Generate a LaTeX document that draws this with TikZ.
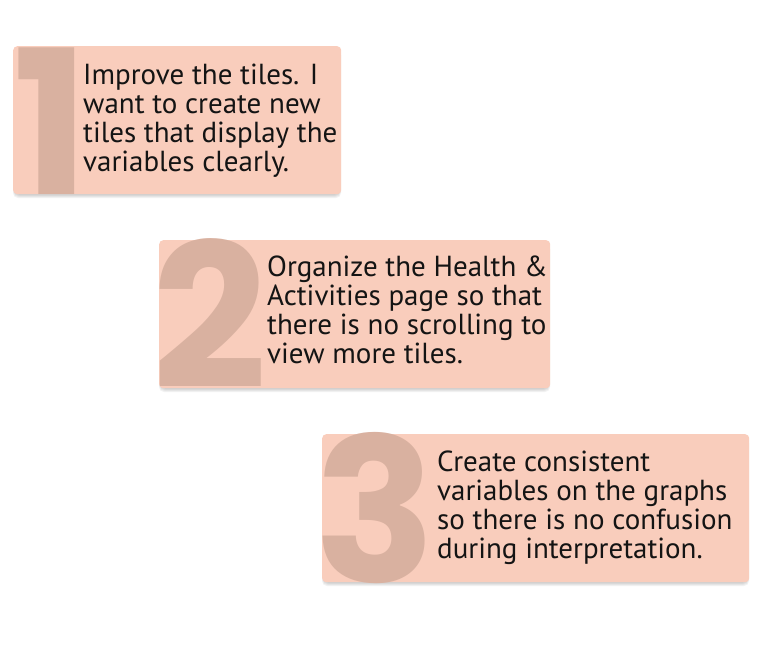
\documentclass[tikz,border=0pt]{standalone}
\usepackage{fontspec}
\setmainfont{PT Sans}
\newfontfamily\digitfont{Poppins}
\definecolor{tilefill}{RGB}{249,205,188}
\definecolor{digitcol}{RGB}{217,177,160}
\definecolor{textcol}{RGB}{20,20,20}
\tikzset{
  tile/.style={fill=tilefill, rounded corners=4pt, draw=none, inner sep=0pt, anchor=north west},
  digit/.style={inner sep=0pt, text=digitcol, font=\digitfont\bfseries\fontsize{201}{201}\selectfont, anchor=base west},
  tiletext/.style={inner sep=0pt, align=left, anchor=north west, text=textcol, font=\fontsize{29}{29}\selectfont},
  shadowlayer/.style={fill=black, opacity=0.05, rounded corners=5pt}
}
\newcommand\softshadow[4]{%
  \foreach \k in {1,2,3,4}{\fill[shadowlayer] (#1+2-\k*0.5, #2+4) rectangle (#3-2+\k*0.5, #4+\k);}}
\begin{document}
\begin{tikzpicture}[x=1pt,y=-1pt]
\useasboundingbox (0,0) rectangle (770,645);
% tile 1
\softshadow{13}{46}{341}{194}
\node[tile, minimum width=328pt, minimum height=148pt] (tile1) at (13,46) {};
\node[digit, xshift=0pt] (num1) at (tile1.south west) {1};
\node[tiletext] (txt1) at (83,63.5) {Improve the tiles. I\\want to create new\\tiles that display the\\variables clearly.};
% tile 2
\softshadow{159}{240}{550}{388}
\node[tile, minimum width=391pt, minimum height=148pt] (tile2) at (159,240) {};
\node[digit, xshift=-7pt] (num2) at (tile2.south west) {2};
\node[tiletext] (txt2) at (267,255.5) {Organize the Health \&\\Activities page so that\\there is no scrolling to\\view more tiles.};
% tile 3
\softshadow{322}{434}{749}{582}
\node[tile, minimum width=427pt, minimum height=148pt] (tile3) at (322,434) {};
\node[digit, xshift=-8pt] (num3) at (tile3.south west) {3};
\node[tiletext] (txt3) at (437,450.5) {Create consistent\\variables on the graphs\\so there is no confusion\\during interpretation.};
\end{tikzpicture}
\end{document}
